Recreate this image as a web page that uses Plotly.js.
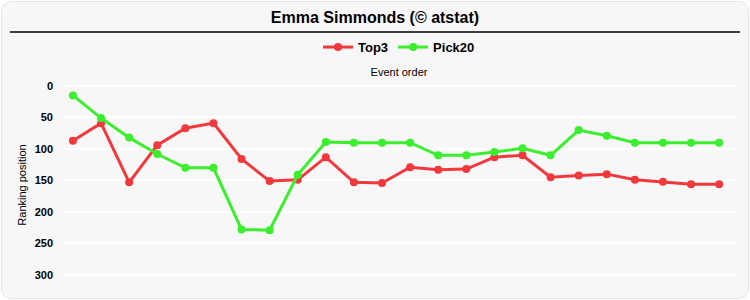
<!DOCTYPE html>
<html>
<head>
<meta charset="utf-8">
<script src="https://cdn.plot.ly/plotly-3.0.1.min.js"></script>
<style>
  html, body { margin: 0; padding: 0; background: #ffffff; }
  #card { position: absolute; left: 1px; top: 1px; width: 746px; height: 296px;
          background: #f7f7f7; border: 1px solid #e6e6e6; border-radius: 10px; }
  #chart { position: absolute; left: 0; top: 0; width: 750px; height: 300px; }
</style>
</head>
<body>
<div id="card"></div>
<div id="chart"></div>
<script>
const events = [1,2,3,4,5,6,7,8,9,10,11,12,13,14,15,16,17,18,19,20,21,22,23,24];
const top3 =   [87,59,153,94,67,59,116,151,149,113,153,154,129,133,132,113,110,145,142,140,149,152,156,156];
const pick20 = [15,51,82,108,130,130,228,229,141,89,90,90,90,110,110,105,99,110,70,79,90,90,90,90];
const yTicks = [0,50,100,150,200,250,300];

const red = '#f2383c';
const green = '#3cef2e';

const traces = [
  { x: events, y: top3, name: 'Top3', type: 'scatter', mode: 'lines+markers',
    line: { color: red, width: 3 }, marker: { color: red, size: 8 } },
  { x: events, y: pick20, name: 'Pick20', type: 'scatter', mode: 'lines+markers',
    line: { color: green, width: 3 }, marker: { color: green, size: 8 } }
];

const layout = {
  width: 750, height: 300,
  paper_bgcolor: 'rgba(0,0,0,0)', plot_bgcolor: 'rgba(0,0,0,0)',
  margin: { l: 62, r: 14, t: 80, b: 10 },
  font: { family: 'Arial, Liberation Sans, sans-serif', color: '#000' },
  title: { text: '<b>Emma Simmonds (© atstat)</b>', font: { size: 16, color: '#000' },
           x: 0.5, xanchor: 'center', y: 0.943, yanchor: 'middle' },
  showlegend: true,
  legend: { orientation: 'h', x: 0.5, xanchor: 'center', y: 0.843, yref: 'container', yanchor: 'middle',
            font: { size: 13, color: '#000', weight: 'bold' }, bgcolor: 'rgba(0,0,0,0)',
            itemwidth: 30, tracegroupgap: 0 },
  xaxis: { side: 'top', range: [0.61, 24.6], showticklabels: false, showgrid: false,
           zeroline: false, showline: false, ticks: '',
           title: { text: 'Event order', font: { size: 11, color: '#000' }, standoff: 0 } },
  yaxis: { range: [324, -9.5], tickvals: yTicks, ticktext: yTicks.map(v => '<b>' + v + '</b>'),
           showgrid: true, gridcolor: '#ffffff', gridwidth: 2, zeroline: false, showline: false,
           tickfont: { size: 11, color: '#000' }, ticks: '', ticklen: 0, ticklabelstandoff: 8,
           title: { text: 'Ranking position', font: { size: 11, color: '#000' }, standoff: 5 } },
  shapes: [
    { type: 'line', xref: 'paper', yref: 'paper', x0: -0.0774, x1: 1.0059, y0: 1.2286, y1: 1.2286,
      line: { color: '#000', width: 1.5 } }
  ]
};

Plotly.newPlot('chart', traces, layout, { displayModeBar: false, staticPlot: true });
</script>
</body>
</html>
